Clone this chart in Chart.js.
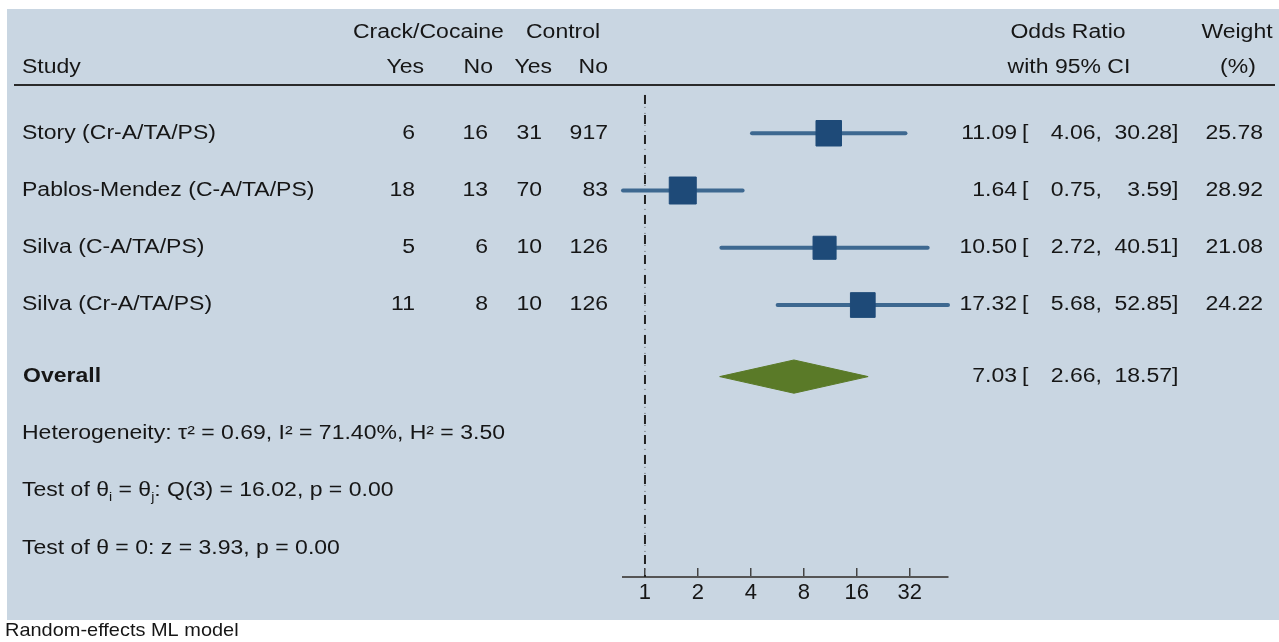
<!DOCTYPE html>
<html>
<head>
<meta charset="utf-8">
<script src="https://cdn.jsdelivr.net/npm/chart.js@4/dist/chart.umd.min.js"></script>
<style>
  html, body { margin: 0; padding: 0; background: #fff; }
  canvas { display: block; }
</style>
</head>
<body>
<canvas id="forest" width="1279" height="642"></canvas>
<script>
// study rows
const studies = ['Story (Cr-A/TA/PS)', 'Pablos-Mendez (C-A/TA/PS)', 'Silva (C-A/TA/PS)', 'Silva (Cr-A/TA/PS)'];
const caseYes = [6, 18, 5, 11];
const caseNo = [16, 13, 6, 8];
const ctrlYes = [31, 70, 10, 10];
const ctrlNo = [917, 83, 126, 126];
const oddsRatio = [11.09, 1.64, 10.50, 17.32];
const ciLow = [4.06, 0.75, 2.72, 5.68];
const ciHigh = [30.28, 3.59, 40.51, 52.85];
const weights = [25.78, 28.92, 21.08, 24.22];

// overall estimate
const overallOR = 7.03;
const overallLow = 2.66;
const overallHigh = 18.57;

const xTicks = [1, 2, 4, 8, 16, 32];
const statLines = [
    [{ t: 'Heterogeneity: \u03c4\u00b2 = 0.69, I\u00b2 = 71.40%, H\u00b2 = 3.50' }],
    [{ t: 'Test of \u03b8' }, { t: 'i', sub: true }, { t: ' = \u03b8' }, { t: 'j', sub: true }, { t: ': Q(3) = 16.02, p = 0.00' }],
    [{ t: 'Test of \u03b8 = 0: z = 3.93, p = 0.00' }]
];
const caption = 'Random-effects ML model';

const rowY = studies.map((s, i) => i + 1);
const overallY = 5.25;
const statY = [6.25, 7.25, 8.25];

const FONT = '"Liberation Sans", Arial, Helvetica, sans-serif';
const SX = 1.18;
const TEXT = '#161616';
const fmt = v => v.toFixed(2);

function txt(ctx, s, x, y, align, opts) {
    opts = opts || {};
    ctx.save();
    ctx.font = (opts.bold ? 'bold ' : '') + (opts.size || 19.5) + 'px ' + FONT;
    ctx.fillStyle = TEXT;
    ctx.textBaseline = 'middle';
    ctx.textAlign = align;
    ctx.translate(x, y);
    ctx.scale(opts.sx || SX, 1);
    ctx.fillText(s, 0, 0);
    ctx.restore();
}

function richTxt(ctx, parts, x, y) {
    let cx = x;
    parts.forEach(p => {
        ctx.save();
        const size = p.sub ? 12 : 19.5;
        ctx.font = size + 'px ' + FONT;
        ctx.fillStyle = TEXT;
        ctx.textBaseline = 'middle';
        ctx.textAlign = 'left';
        ctx.translate(cx, y + (p.sub ? 7 : 0));
        ctx.scale(SX, 1);
        ctx.fillText(p.t, 0, 0);
        cx += ctx.measureText(p.t).width * SX;
        ctx.restore();
    });
}

const forestDecor = {
    id: 'forestDecor',
    beforeDraw(chart) {
        const ctx = chart.ctx;
        ctx.save();
        ctx.fillStyle = '#ffffff';
        ctx.fillRect(0, 0, chart.width, chart.height);
        ctx.fillStyle = '#c9d6e2';
        ctx.fillRect(7, 9, chart.width - 7, 611);
        ctx.strokeStyle = '#2a2a2a';
        ctx.lineWidth = 2;
        ctx.beginPath();
        ctx.moveTo(14, 85);
        ctx.lineTo(1275, 85);
        ctx.stroke();
        ctx.restore();
    },
    afterDraw(chart) {
        const ctx = chart.ctx;
        const ys = chart.scales.y;
        const h1 = ys.getPixelForValue(-0.75);
        const h2 = ys.getPixelForValue(-0.14);

        // column headers
        txt(ctx, 'Crack/Cocaine', 353, h1, 'left');
        txt(ctx, 'Control', 526, h1, 'left');
        txt(ctx, 'Odds Ratio', 1068, h1, 'center');
        txt(ctx, 'Weight', 1237, h1, 'center');
        txt(ctx, 'Study', 22, h2, 'left');
        txt(ctx, 'Yes', 424, h2, 'right');
        txt(ctx, 'No', 493, h2, 'right');
        txt(ctx, 'Yes', 552, h2, 'right');
        txt(ctx, 'No', 608, h2, 'right');
        txt(ctx, 'with 95% CI', 1069, h2, 'center');
        txt(ctx, '(%)', 1238, h2, 'center');

        const ciText = (y, or, lo, hi) => {
            txt(ctx, fmt(or), 1017, y, 'right');
            txt(ctx, '[', 1022, y, 'left');
            txt(ctx, fmt(lo) + ',', 1102, y, 'right');
            txt(ctx, fmt(hi), 1172, y, 'right');
            txt(ctx, ']', 1172, y, 'left');
        };

        studies.forEach((s, i) => {
            const y = ys.getPixelForValue(rowY[i]);
            txt(ctx, s, 22, y, 'left');
            txt(ctx, String(caseYes[i]), 415, y, 'right');
            txt(ctx, String(caseNo[i]), 488, y, 'right');
            txt(ctx, String(ctrlYes[i]), 542, y, 'right');
            txt(ctx, String(ctrlNo[i]), 608, y, 'right');
            ciText(y, oddsRatio[i], ciLow[i], ciHigh[i]);
            txt(ctx, fmt(weights[i]), 1263, y, 'right');
        });

        const oy = ys.getPixelForValue(overallY);
        txt(ctx, 'Overall', 23, oy, 'left', { bold: true });
        ciText(oy, overallOR, overallLow, overallHigh);

        statLines.forEach((parts, i) => richTxt(ctx, parts, 22, ys.getPixelForValue(statY[i])));

        txt(ctx, caption, 5, 631, 'left', { size: 19, sx: 1.05 });
    }
};

const ciColor = '#3d6890';
const boxColor = '#1e4a78';
const diamondColor = '#5a7a28';

const datasets = [];

// weighted squares: side grows with sqrt(weight)
datasets.push({
    label: 'estimates',
    data: oddsRatio.map((v, i) => ({ x: v, y: rowY[i] })),
    showLine: false,
    pointStyle: 'rect',
    pointRadius: weights.map(w => 5.02 * Math.sqrt(w) / Math.SQRT2),
    pointBackgroundColor: boxColor,
    pointBorderColor: boxColor,
    pointBorderWidth: 1,
    order: 0,
    clip: false
});

studies.forEach((s, i) => {
    datasets.push({
        label: s,
        data: [{ x: ciLow[i], y: rowY[i] }, { x: ciHigh[i], y: rowY[i] }],
        borderColor: ciColor,
        borderWidth: 4,
        borderCapStyle: 'round',
        pointRadius: 0,
        order: 1,
        clip: false
    });
});

// overall diamond, upper and lower halves filled together
datasets.push({
    label: 'overall-top',
    data: [{ x: overallLow, y: overallY }, { x: overallOR, y: overallY - 0.29 }, { x: overallHigh, y: overallY }],
    borderColor: diamondColor,
    borderWidth: 1,
    backgroundColor: diamondColor,
    pointRadius: 0,
    fill: '+1',
    order: 1,
    clip: false
});
datasets.push({
    label: 'overall-bottom',
    data: [{ x: overallLow, y: overallY }, { x: overallOR, y: overallY + 0.29 }, { x: overallHigh, y: overallY }],
    borderColor: diamondColor,
    borderWidth: 1,
    pointRadius: 0,
    fill: false,
    order: 1,
    clip: false
});

// line of no effect
datasets.push({
    label: 'null-dots',
    data: [{ x: 1, y: 0.33 }, { x: 1, y: 8.75 }],
    borderColor: '#555',
    borderWidth: 1,
    borderDash: [1, 5],
    pointRadius: 0,
    order: 3,
    clip: false
});
datasets.push({
    label: 'null-dash',
    data: [{ x: 1, y: 0.33 }, { x: 1, y: 8.75 }],
    borderColor: '#222',
    borderWidth: 2,
    borderDash: [9, 11],
    pointRadius: 0,
    order: 2,
    clip: false
});

new Chart(document.getElementById('forest').getContext('2d'), {
    type: 'line',
    data: { datasets },
    options: {
        responsive: false,
        animation: false,
        layout: { padding: { left: 623, right: 331, top: 76, bottom: 25 } },
        plugins: { legend: { display: false }, tooltip: { enabled: false } },
        scales: {
            x: {
                type: 'logarithmic',
                min: 0.75,
                max: 52.85,
                afterBuildTicks: scale => { scale.ticks = xTicks.map(v => ({ value: v })); },
                afterFit: scale => { scale.height = 40; },
                ticks: {
                    color: TEXT,
                    padding: 12,
                    autoSkip: false,
                    maxRotation: 0,
                    font: { family: FONT, size: 22 },
                    callback: v => String(v)
                },
                grid: { drawOnChartArea: false, drawTicks: true, tickLength: -9, color: '#444', lineWidth: 1.5 },
                border: { display: true, color: '#555', width: 2 }
            },
            y: {
                type: 'linear',
                min: 0,
                max: 8.75,
                reverse: true,
                display: false
            }
        }
    },
    plugins: [forestDecor]
});
</script>
</body>
</html>
